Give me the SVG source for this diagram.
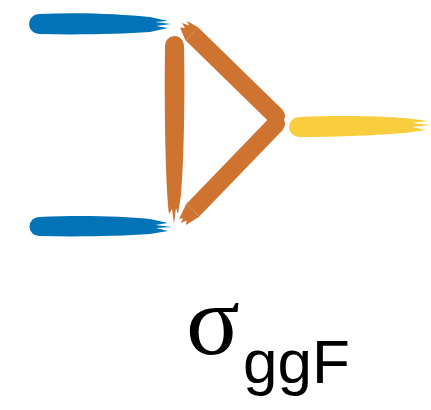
<svg xmlns="http://www.w3.org/2000/svg" width="431" height="410" viewBox="0 0 431 410">
  <style>
    .gluon { fill: #0373B8; }
    .quark { fill: #CF7330; }
    .quark-line { stroke: #CF7330; stroke-width: 18; fill: none; stroke-linecap: butt; }
    .higgs { fill: #F8CE3E; }
    .sym { font-family: "Liberation Serif", "Times New Roman", serif; fill: #000; }
    .label { font-family: "Liberation Sans", Arial, sans-serif; fill: #000; }
  </style>
  <rect width="431" height="410" fill="#fff"/>

  <!-- incoming gluons -->
  <g id="gluon-top">
    <path class="gluon" d="M 39 14 C 80 12, 120 14, 150 17 L 168 21 L 155 22 L 171 24 L 156 26 L 168 28 L 150 32 C 120 34, 80 35, 39 34 A 10 10 0 0 1 39 14 Z"/>
  </g>
  <g id="gluon-bottom">
    <path class="gluon" d="M 39 217 C 80 215, 120 216, 150 219 L 168 223 L 155 225 L 172 227 L 156 228 L 168 231 L 150 234 C 120 236, 80 237, 39 236 A 9.5 9.5 0 0 1 39 217 Z"/>
  </g>

  <!-- top-quark loop -->
  <g id="loop">
    <g id="loop-left">
      <path class="quark" d="M 165 46 A 9.5 9.5 0 0 1 184 45 C 185 100, 184 160, 181 195 L 178 214 L 176 208 L 174 224 L 172 209 L 169 214 C 166 190, 164 120, 165 46 Z"/>
    </g>
    <g id="loop-upper">
      <line class="quark-line" x1="192" y1="34" x2="276" y2="116"/>
      <circle class="quark" cx="276" cy="116" r="9"/>
      <path class="quark" d="M 198.5 27.5 L 187 21 L 189 25.5 L 182 23 L 185 28 L 180 27.5 L 185.5 40.5 Z"/>
    </g>
    <g id="loop-lower">
      <line class="quark-line" x1="276" y1="124" x2="193" y2="210"/>
      <circle class="quark" cx="276" cy="124" r="9"/>
      <path class="quark" d="M 199.5 216.5 L 186 225 L 186.5 220.5 L 181 223 L 183 218 L 179 219 L 186.5 203.5 Z"/>
    </g>
  </g>

  <!-- outgoing Higgs -->
  <g id="higgs">
    <path class="higgs" d="M 299 117 C 340 115, 380 116, 405 118 L 428 121 L 412 123 L 431 125 L 412 127 L 426 130 L 405 133 C 380 135, 340 137, 299 137 A 10 10 0 0 1 299 117 Z"/>
  </g>

  <g id="label">
    <text class="sym" x="186" y="354" font-size="100">σ</text>
    <text class="label" x="243" y="383" font-size="62">ggF</text>
  </g>
</svg>
